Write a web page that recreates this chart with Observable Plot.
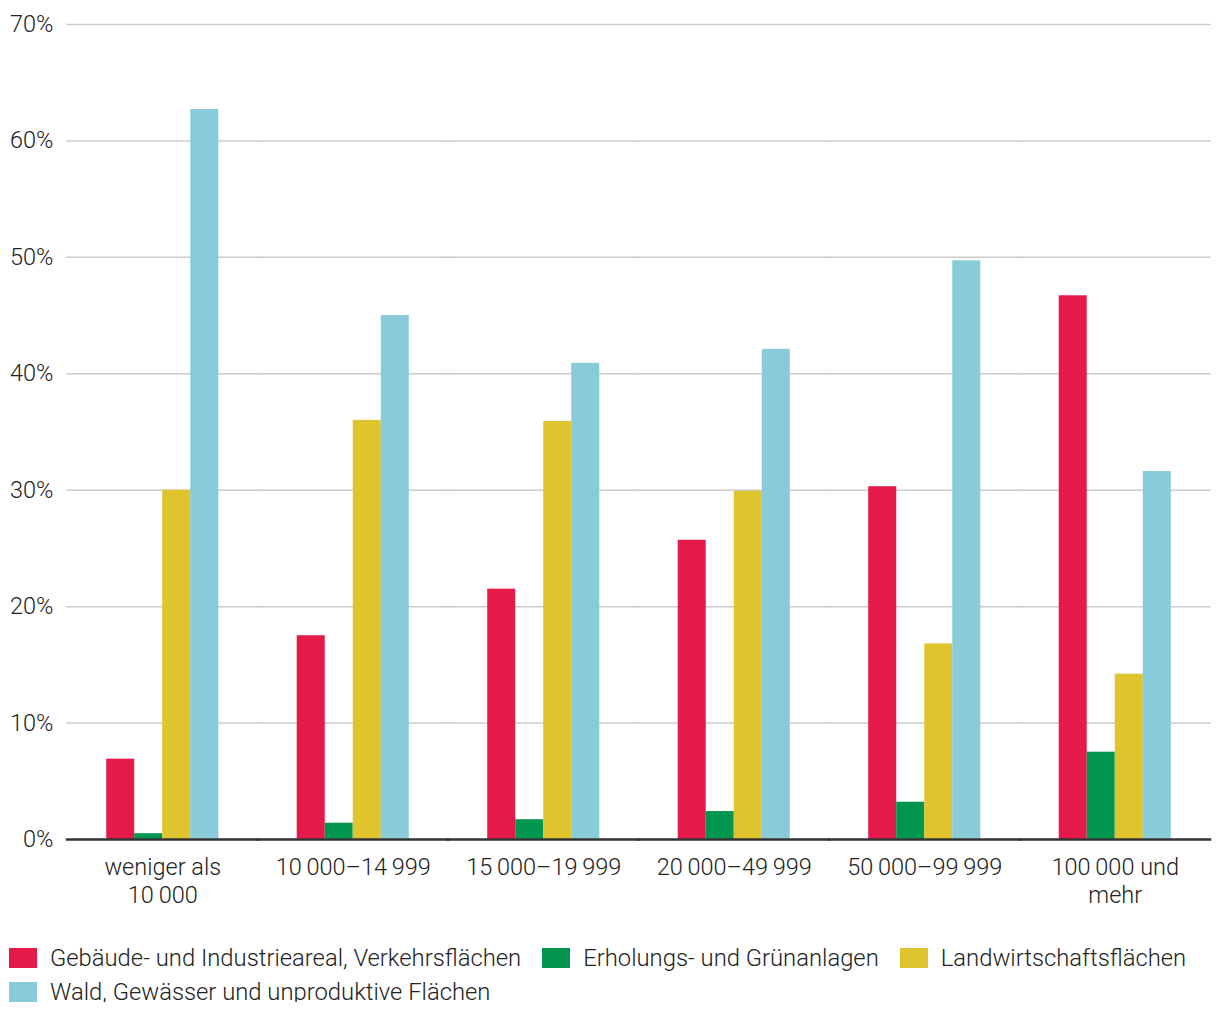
<!DOCTYPE html>
<html>
<head>
<meta charset="utf-8">
<script src="https://cdn.jsdelivr.net/npm/d3@7"></script>
<script src="https://cdn.jsdelivr.net/npm/@observablehq/plot@0.6"></script>
<style>
  html, body { margin: 0; padding: 0; background: #fff; }
  body { font-family: Roboto, sans-serif; font-weight: 300; color: #222; }
  #chart svg { display: block; }
  .legend { display: flex; flex-wrap: wrap; box-sizing: border-box; padding-left: 9px; width: 1220px; row-gap: 14px; column-gap: 21px; margin-top: 28px; }
  .item { display: flex; align-items: center; font-size: 23.8px; font-weight: 300; color: #222; line-height: 20px; }
  .sw { width: 28px; height: 20px; margin-right: 13px; flex: none; }
</style>
</head>
<body>
<div id="chart"></div>
<div class="legend" id="legend"></div>
<script>
const categories = ["weniger als\n10\u2009000", "10\u2009000–14\u2009999", "15\u2009000–19\u2009999", "20\u2009000–49\u2009999", "50\u2009000–99\u2009999", "100\u2009000 und\nmehr"];
const seriesNames = ["Gebäude- und Industrieareal, Verkehrsflächen", "Erholungs- und Grünanlagen", "Landwirtschaftsflächen", "Wald, Gewässer und unproduktive Flächen"];
const seriesColors = ["#e5194a", "#00964f", "#e0c42e", "#87ccd8"];
const gebaeude = [6.9, 17.5, 21.5, 25.7, 30.3, 46.7];
const erholung = [0.5, 1.4, 1.7, 2.4, 3.2, 7.5];
const landwirtschaft = [30.0, 36.0, 35.9, 29.9, 16.8, 14.2];
const wald = [62.7, 45.0, 40.9, 42.1, 49.7, 31.6];
const yTicks = [0, 10, 20, 30, 40, 50, 60, 70];

const seriesValues = [gebaeude, erholung, landwirtschaft, wald];
const data = [];
categories.forEach((c, i) => {
  seriesNames.forEach((s, j) => data.push({category: c, series: s, value: seriesValues[j][i]}));
});

const plot = Plot.plot({
  width: 1220,
  height: 920,
  marginLeft: 67,
  marginRight: 10,
  marginTop: 24,
  marginBottom: 81,
  style: {fontFamily: "Roboto, sans-serif", fontSize: "23.5px", fontWeight: 300, color: "#222", background: "#fff"},
  fx: {domain: categories, padding: 0, round: false, label: null},
  x: {domain: seriesNames, paddingInner: 0, paddingOuter: 1.40, round: false, axis: null},
  y: {domain: [0, 70], ticks: yTicks, label: null},
  color: {domain: seriesNames, range: seriesColors},
  marks: [
    Plot.ruleY(yTicks.filter(d => d > 0), {stroke: "#cccccc", strokeWidth: 1.5, strokeLinecap: "square"}),
    Plot.axisY({ticks: yTicks, tickSize: 0, tickPadding: 14, tickFormat: d => d + "%", label: null, fontSize: 23.5}),
    Plot.axisFx({anchor: "bottom", tickSize: 0, tickPadding: 16, label: null, lineHeight: 1.17, fontSize: 23.5}),
    Plot.barY(data, {fx: "category", x: "series", y: "value", fill: "series", inset: 0}),
    Plot.ruleY([0], {stroke: "#333333", strokeWidth: 2.5, strokeLinecap: "square"})
  ]
});
document.getElementById("chart").appendChild(plot);

const legend = document.getElementById("legend");
seriesNames.forEach((s, i) => {
  const it = document.createElement("div");
  it.className = "item";
  const sw = document.createElement("span");
  sw.className = "sw";
  sw.style.background = seriesColors[i];
  const t = document.createElement("span");
  t.textContent = s;
  it.appendChild(sw); it.appendChild(t);
  legend.appendChild(it);
});
</script>
</body>
</html>
